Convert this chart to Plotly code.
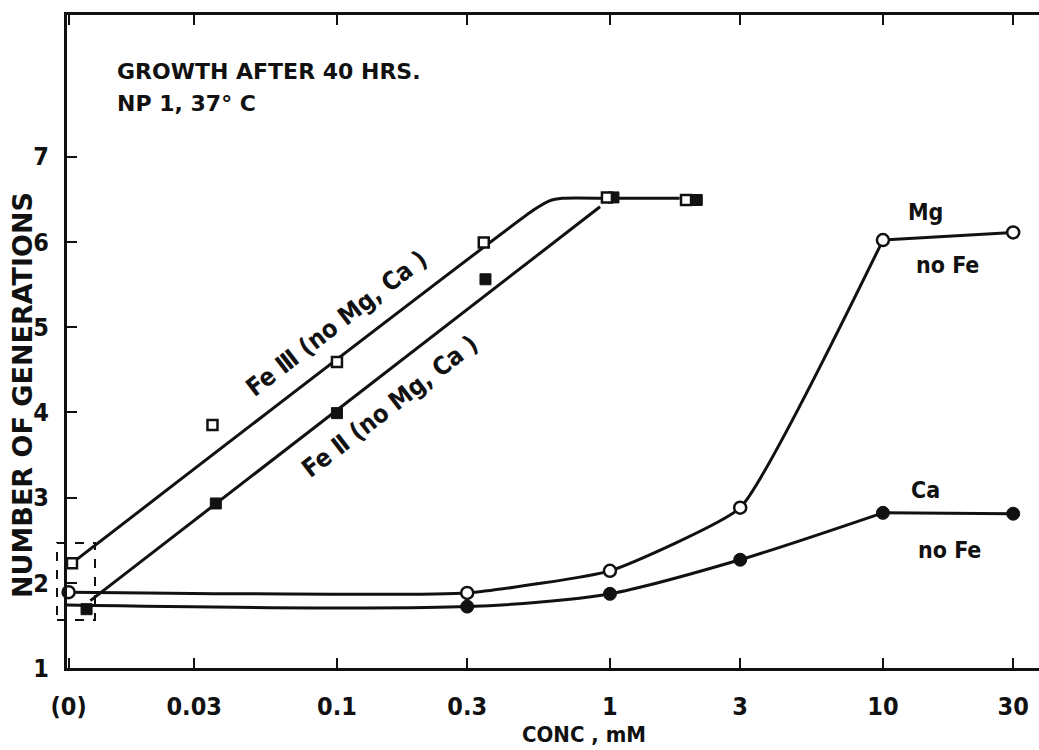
import numpy as np
import plotly.graph_objects as go

# ---------------- data ----------------
tick_vals = [0.0104, 0.03, 0.1, 0.3, 1, 3, 10, 30]
tick_text = ["(0)", "0.03", "0.1", "0.3", "1", "3", "10", "30"]
y_ticks = [1, 2, 3, 4, 5, 6, 7]

# Mg (open circles), no Fe
mg_x = [0.0104, 0.3, 1, 3, 10, 30]
mg_y = [1.89, 1.88, 2.14, 2.88, 6.02, 6.11]

# Ca (filled circles), no Fe
ca_x = [0.0100, 0.3, 1, 3, 10, 30]
ca_y = [1.74, 1.72, 1.87, 2.27, 2.82, 2.81]

# Fe III (open squares), no Mg, Ca
fe3_x = [0.0107, 0.035, 0.1, 0.345, 0.975, 1.9]
fe3_y = [2.23, 3.85, 4.59, 5.99, 6.52, 6.49]

# Fe II (filled squares), no Mg, Ca
fe2_x = [0.0121, 0.036, 0.1, 0.35, 1.03, 2.08]
fe2_y = [1.69, 2.93, 3.99, 5.56, 6.52, 6.49]

# hand-drawn fitted lines for the Fe series
fe3_fit_x = [0.0107, 0.53, 0.60, 0.67, 1.0, 1.8]
fe3_fit_y = [2.23, 6.38, 6.48, 6.51, 6.51, 6.51]
fe2_fit_x = [0.0125, 0.92]
fe2_fit_y = [1.79, 6.41]

FONT = "DejaVu Sans Condensed, Roboto, DejaVu Sans, sans-serif"
WIDE = "DejaVu Sans, Roboto, sans-serif"
BLACK = "#111111"
LW = 3

fig = go.Figure()

# ---------------- lines ----------------
fig.add_trace(go.Scatter(x=fe3_fit_x, y=fe3_fit_y, mode="lines",
                         line=dict(color=BLACK, width=LW, shape="spline", smoothing=0.6),
                         hoverinfo="skip", showlegend=False))
fig.add_trace(go.Scatter(x=fe2_fit_x, y=fe2_fit_y, mode="lines",
                         line=dict(color=BLACK, width=LW),
                         hoverinfo="skip", showlegend=False))
# Mg curve: smooth up to 10 mM, then straight
fig.add_trace(go.Scatter(x=mg_x[:5], y=mg_y[:5], mode="lines",
                         line=dict(color=BLACK, width=LW, shape="spline", smoothing=0.4),
                         hoverinfo="skip", showlegend=False))
fig.add_trace(go.Scatter(x=mg_x[4:], y=mg_y[4:], mode="lines",
                         line=dict(color=BLACK, width=LW),
                         hoverinfo="skip", showlegend=False))
# Ca curve
fig.add_trace(go.Scatter(x=ca_x[:5], y=ca_y[:5], mode="lines",
                         line=dict(color=BLACK, width=LW, shape="spline", smoothing=0.8),
                         hoverinfo="skip", showlegend=False))
fig.add_trace(go.Scatter(x=ca_x[4:], y=ca_y[4:], mode="lines",
                         line=dict(color=BLACK, width=LW),
                         hoverinfo="skip", showlegend=False))

# ---------------- markers ----------------
fig.add_trace(go.Scatter(x=ca_x, y=ca_y, mode="markers", name="Ca", cliponaxis=False,
                         marker=dict(symbol="circle", size=13, color=BLACK,
                                     line=dict(color=BLACK, width=1)),
                         showlegend=False))
fig.add_trace(go.Scatter(x=mg_x, y=mg_y, mode="markers", name="Mg", cliponaxis=False,
                         marker=dict(symbol="circle", size=12, color="white",
                                     line=dict(color=BLACK, width=2.5)),
                         showlegend=False))
fig.add_trace(go.Scatter(x=fe2_x, y=fe2_y, mode="markers", name="Fe II", cliponaxis=False,
                         marker=dict(symbol="square", size=11, color=BLACK,
                                     line=dict(color=BLACK, width=1)),
                         showlegend=False))
fig.add_trace(go.Scatter(x=fe3_x, y=fe3_y, mode="markers", name="Fe III", cliponaxis=False,
                         marker=dict(symbol="square", size=10, color="white",
                                     line=dict(color=BLACK, width=2.5)),
                         showlegend=False))

# ---------------- annotations ----------------
def ann(text, x, y, size=23, angle=0, xanchor="center", family=FONT):
    fig.add_annotation(text=text, x=x, y=y, xref="paper", yref="paper",
                       showarrow=False, textangle=angle, xanchor=xanchor,
                       yanchor="middle",
                       font=dict(family=family, size=size, color=BLACK, weight="bold"))

ann("GROWTH AFTER 40 HRS.", 0.049, 0.913, size=22, xanchor="left", family=WIDE)
ann("NP 1, 37° C", 0.049, 0.864, size=22, xanchor="left", family=WIDE)
ann("Fe Ⅲ (no Mg, Ca )", 0.277, 0.528, size=25, angle=-37.7)
ann("Fe Ⅱ (no Mg, Ca )", 0.332, 0.400, size=25, angle=-37.7)
ann("Mg", 0.883, 0.698)
ann("no Fe", 0.906, 0.617)
ann("Ca", 0.883, 0.273)
ann("no Fe", 0.908, 0.181)
ann("CONC , mM", 0.532, -0.1026, size=22)
ann("NUMBER OF GENERATIONS", -0.0463, 0.418, size=27, angle=-90, family=WIDE)

# dashed box around the (0) points
fig.add_shape(type="rect", xref="paper", yref="paper",
              x0=-0.0103, x1=0.0288, y0=0.0735, y1=0.1914,
              line=dict(color=BLACK, width=2, dash="dash"))

fig.update_layout(
    width=1039, height=750,
    margin=dict(l=67, r=0, t=15, b=82),
    paper_bgcolor="white", plot_bgcolor="white",
    font=dict(family=FONT, color=BLACK),
    showlegend=False,
)
fig.update_xaxes(type="log", range=[np.log10(0.01026), np.log10(37.3)],
                 tickmode="array", tickvals=tick_vals, ticktext=tick_text,
                 ticks="inside", ticklen=10, tickwidth=2, tickcolor=BLACK,
                 showline=True, linewidth=3, linecolor=BLACK, mirror="ticks",
                 showgrid=False, zeroline=False, ticklabelstandoff=14,
                 tickfont=dict(family=FONT, size=25, color=BLACK, weight="bold"))
fig.update_yaxes(range=[1, 8.66], tickmode="array", tickvals=y_ticks,
                 ticks="inside", ticklen=10, tickwidth=2, tickcolor=BLACK,
                 showline=True, linewidth=3, linecolor=BLACK,
                 showgrid=False, zeroline=False, ticklabelstandoff=10,
                 tickfont=dict(family=FONT, size=25, color=BLACK, weight="bold"))

fig.write_html("out.html")
